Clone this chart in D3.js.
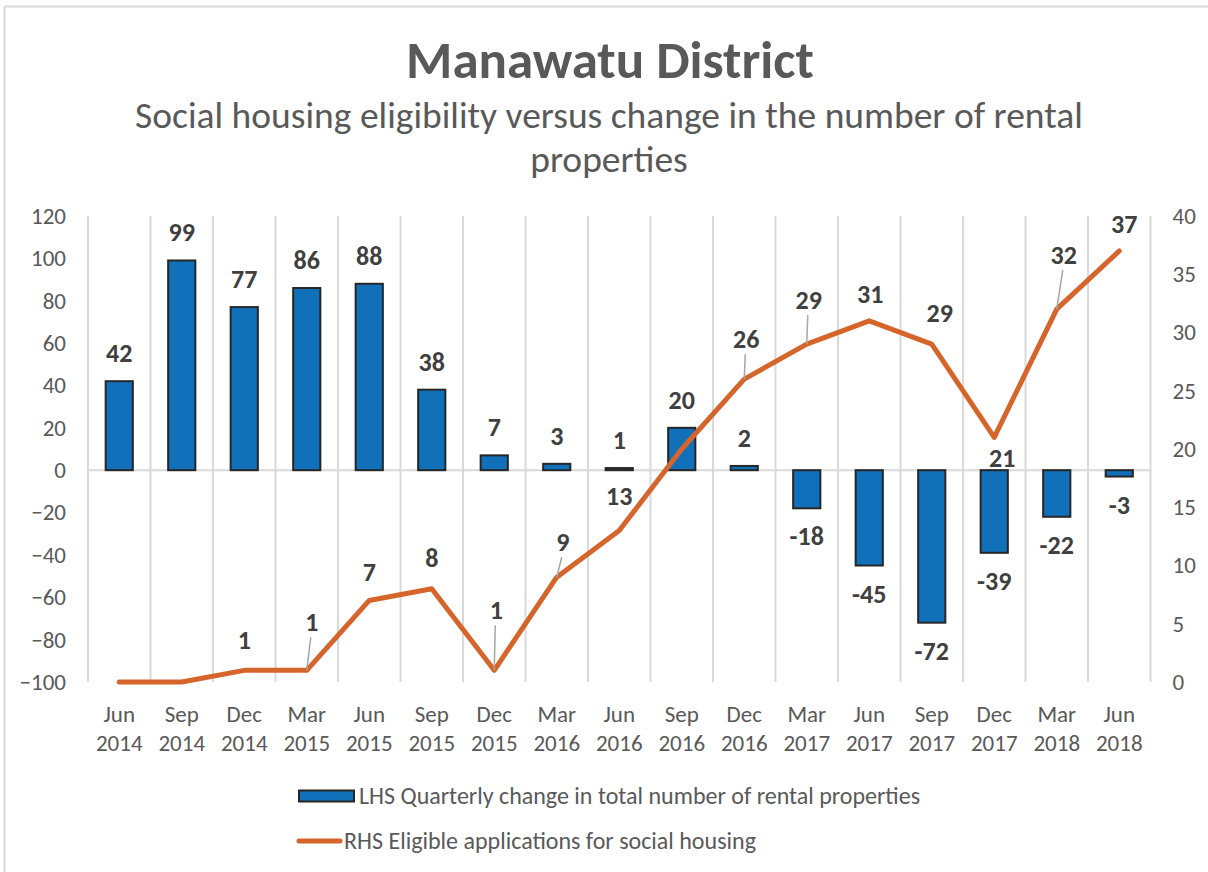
<!DOCTYPE html>
<html>
<head>
<meta charset="utf-8">
<script src="https://cdn.jsdelivr.net/npm/d3@7"></script>
<style>
  html, body { margin: 0; padding: 0; background: #fff; }
  svg { display: block; font-family: Carlito, Calibri, Lato, "Open Sans", sans-serif; }
</style>
</head>
<body>
<svg id="chart" width="1208" height="872"></svg>
<script>
// Quarter labels (two lines each)
const quarters = ["Jun", "Sep", "Dec", "Mar", "Jun", "Sep", "Dec", "Mar", "Jun", "Sep", "Dec", "Mar", "Jun", "Sep", "Dec", "Mar", "Jun"];
const years = ["2014", "2014", "2014", "2015", "2015", "2015", "2015", "2016", "2016", "2016", "2016", "2017", "2017", "2017", "2017", "2018", "2018"];

// LHS: quarterly change in total number of rental properties
const rentalChange = [42, 99, 77, 86, 88, 38, 7, 3, 1, 20, 2, -18, -45, -72, -39, -22, -3];
// RHS: eligible applications for social housing
const eligibleApps = [0, 0, 1, 1, 7, 8, 1, 9, 13, 20, 26, 29, 31, 29, 21, 32, 37];

const leftTicks = [120, 100, 80, 60, 40, 20, 0, -20, -40, -60, -80, -100];
const rightTicks = [40, 35, 30, 25, 20, 15, 10, 5, 0];

// Placement of the line's value labels relative to each point: [dx, dy, leader line?, shown?]
const lineLabelPlacement = [
  [0, 0, false, false], [0, 0, false, false], [0, -30, false, true], [5, -48, true, true],
  [0, -28, false, true], [0, -31, false, true], [2, -60, true, true], [6, -35, true, true],
  [0, -35, false, true], [0, 0, false, false], [2, -40, true, true], [2, -44, true, true],
  [1, -27, false, true], [8, -31, false, true], [8, 21, false, true], [7, -54, true, true],
  [5, -27, false, true]
];

const svg = d3.select("#chart");
const W = 1208, H = 872;
const plot = { left: 88, right: 1150.5, top: 216, bottom: 682 };

const barColor = "#1170BA";
const lineColor = "#D5652B";
const textColor = "#595959";
const labelColor = "#404040";
const gridColor = "#D9D9D9";
const axisFont = 23;
const labelFont = 26;

// Outer frame (top and left edges)
svg.append("line").attr("x1", 4.5).attr("x2", W).attr("y1", 6.5).attr("y2", 6.5)
  .attr("stroke", gridColor).attr("stroke-width", 2);
svg.append("line").attr("x1", 4.5).attr("x2", 4.5).attr("y1", 6.5).attr("y2", H)
  .attr("stroke", gridColor).attr("stroke-width", 2);

// Titles
svg.append("text").attr("x", 610).attr("y", 78).attr("text-anchor", "middle")
  .attr("fill", textColor).attr("font-size", 53).attr("font-weight", "bold")
  .text("Manawatu District");
svg.append("text").attr("x", 609).attr("y", 128).attr("text-anchor", "middle")
  .attr("fill", textColor).attr("font-size", 37.5)
  .text("Social housing eligibility versus change in the number of rental");
svg.append("text").attr("x", 609).attr("y", 172).attr("text-anchor", "middle")
  .attr("fill", textColor).attr("font-size", 37.5)
  .text("properties");

// Scales
const idx = d3.range(quarters.length);
const x = d3.scaleBand().domain(idx).range([plot.left, plot.right]).paddingInner(0.565).paddingOuter(0.2825);
const xb = d3.scaleBand().domain(idx).range([plot.left, plot.right]);
const yL = d3.scaleLinear().domain([-100, 120]).range([plot.bottom, plot.top]);
const yR = d3.scaleLinear().domain([0, 40]).range([plot.bottom, plot.top]);

// Vertical category gridlines
const bounds = idx.map(i => xb(i)).concat([xb(idx.length - 1) + xb.bandwidth()]);
svg.append("g").selectAll("line").data(bounds).join("line")
  .attr("x1", d => d).attr("x2", d => d)
  .attr("y1", plot.top).attr("y2", plot.bottom)
  .attr("stroke", gridColor).attr("stroke-width", 2);

// Zero line
svg.append("line").attr("x1", plot.left).attr("x2", plot.right)
  .attr("y1", yL(0)).attr("y2", yL(0))
  .attr("stroke", gridColor).attr("stroke-width", 2);

// Left axis
const leftAxis = svg.append("g").attr("transform", `translate(${plot.left},0)`)
  .call(d3.axisLeft(yL).tickValues(leftTicks).tickSize(0).tickPadding(22));
leftAxis.select(".domain").remove();
leftAxis.selectAll("text").attr("fill", textColor).attr("font-size", axisFont)
  .style("font-family", "Carlito, Calibri, Lato, 'Open Sans', sans-serif");

// Right axis
const rightAxis = svg.append("g").attr("transform", `translate(${plot.right},0)`)
  .call(d3.axisRight(yR).tickValues(rightTicks).tickSize(0).tickPadding(22));
rightAxis.select(".domain").remove();
rightAxis.selectAll("text").attr("fill", textColor).attr("font-size", axisFont)
  .style("font-family", "Carlito, Calibri, Lato, 'Open Sans', sans-serif");

// Category labels
const xl = svg.append("g");
idx.forEach(i => {
  const cx = xb(i) + xb.bandwidth() / 2;
  const t = xl.append("text").attr("text-anchor", "middle").attr("fill", textColor).attr("font-size", axisFont);
  t.append("tspan").attr("x", cx).attr("y", 722).text(quarters[i]);
  t.append("tspan").attr("x", cx).attr("y", 751).text(years[i]);
});

// Bars
svg.append("g").selectAll("rect").data(rentalChange).join("rect")
  .attr("x", (d, i) => x(i))
  .attr("width", x.bandwidth())
  .attr("y", d => yL(Math.max(0, d)))
  .attr("height", d => Math.abs(yL(d) - yL(0)))
  .attr("fill", barColor)
  .attr("stroke", "#262626").attr("stroke-width", 2);

// Bar value labels
svg.append("g").selectAll("text").data(rentalChange).join("text")
  .attr("x", (d, i) => xb(i) + xb.bandwidth() / 2)
  .attr("y", d => d >= 0 ? yL(d) - 19 : yL(d) + 37)
  .attr("text-anchor", "middle").attr("fill", labelColor)
  .attr("font-size", labelFont).attr("font-weight", "bold")
  .text(d => d);

// Line series
const cxOf = i => xb(i) + xb.bandwidth() / 2;
const line = d3.line().x((d, i) => cxOf(i)).y(d => yR(d));
svg.append("path").datum(eligibleApps)
  .attr("d", line).attr("fill", "none")
  .attr("stroke", lineColor).attr("stroke-width", 5)
  .attr("stroke-linejoin", "round").attr("stroke-linecap", "round");

// Line value labels with leader lines
const lineLabels = svg.append("g");
eligibleApps.forEach((v, i) => {
  const [dx, dy, leader, shown] = lineLabelPlacement[i];
  if (!shown) return;
  const px = cxOf(i), py = yR(v);
  const lx = px + dx, ly = py + dy;
  if (leader) {
    lineLabels.append("line")
      .attr("x1", px).attr("y1", py)
      .attr("x2", lx + (dx > 0 ? -1 : 0)).attr("y2", ly + 15)
      .attr("stroke", "#A6A6A6").attr("stroke-width", 1.5);
  }
  lineLabels.append("text")
    .attr("x", lx).attr("y", ly + 9)
    .attr("text-anchor", "middle").attr("fill", labelColor)
    .attr("font-size", labelFont).attr("font-weight", "bold")
    .text(v);
});

// Legend
const legend = svg.append("g");
legend.append("rect").attr("x", 299).attr("y", 790.5).attr("width", 55).attr("height", 11)
  .attr("fill", barColor).attr("stroke", "#262626").attr("stroke-width", 2);
legend.append("text").attr("x", 359).attr("y", 804).attr("fill", textColor).attr("font-size", 24)
  .text("LHS Quarterly change in total number of rental properties");
legend.append("line").attr("x1", 299).attr("x2", 340).attr("y1", 841).attr("y2", 841)
  .attr("stroke", lineColor).attr("stroke-width", 5).attr("stroke-linecap", "round");
legend.append("text").attr("x", 344).attr("y", 849).attr("fill", textColor).attr("font-size", 24)
  .text("RHS Eligible applications for social housing");
</script>
</body>
</html>
